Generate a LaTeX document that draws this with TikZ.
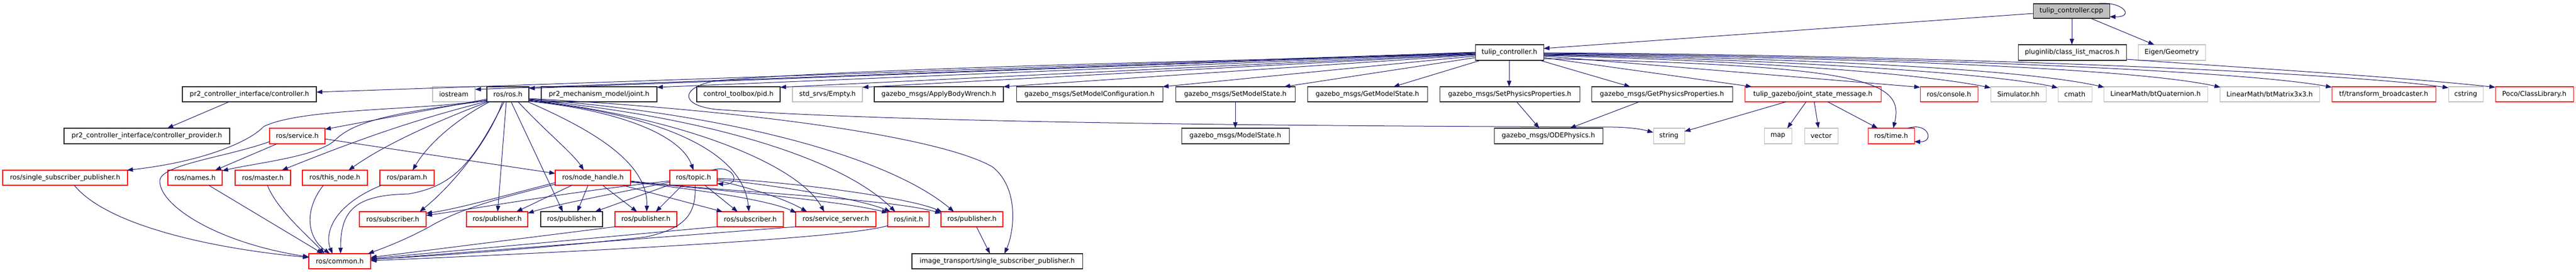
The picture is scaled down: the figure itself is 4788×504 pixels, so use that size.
\documentclass[tikz,border=0pt]{standalone}
\usepackage{fontspec}
\setmainfont{DejaVu Sans}
\usetikzlibrary{arrows.meta}
\definecolor{edgec}{HTML}{191970}
\definecolor{gbord}{HTML}{BFBFBF}
\newcommand\fs{\fontsize{12.4}{14}\selectfont}
\newcommand\nd[7]{\node[#1, minimum width=#5pt, minimum height=#6pt] (#2) at (#3,#4) {#7};}
\tikzset{
  nb/.style={draw=black!85, line width=1.05pt, fill=white, rectangle, inner sep=0pt, outer sep=0pt, anchor=north west, font=\fs},
  nr/.style={nb, draw=red},
  ng/.style={nb, draw=gbord},
  nroot/.style={nb, fill=gbord},
  e/.style={draw=edgec, line width=1pt, -{Triangle[length=11pt,width=8pt]}},
}
\begin{document}
\begin{tikzpicture}[x=1pt,y=-1pt]
\useasboundingbox (0,0) rectangle (4788,504);
% row 0 / 1
\nd{nroot}{cpp}{3779}{7}{142}{27}{tulip\_controller.cpp}
\nd{nb}{tch}{2742}{83}{127}{29}{tulip\_controller.h}
\nd{nb}{plug}{3751}{83}{201}{29}{pluginlib/class\_list\_macros.h}
\nd{ng}{eigen}{3974}{83}{125}{29}{Eigen/Geometry}
% row 2
\nd{nb}{ctrl}{339}{161}{249}{28}{pr2\_controller\_interface/controller.h}
\nd{ng}{iostream}{804}{161}{79}{28}{iostream}
\nd{nb}{rosh}{905}{161}{78}{28}{ros/ros.h}
\nd{nb}{joint}{1006}{161}{215}{28}{pr2\_mechanism\_model/joint.h}
\nd{nb}{pid}{1295}{161}{155}{28}{control\_toolbox/pid.h}
\nd{ng}{empty}{1473}{161}{130}{28}{std\_srvs/Empty.h}
\nd{nb}{abw}{1625}{161}{240}{28}{gazebo\_msgs/ApplyBodyWrench.h}
\nd{nb}{smc}{1889}{161}{272}{28}{gazebo\_msgs/SetModelConfiguration.h}
\nd{nb}{sms}{2185}{161}{222}{28}{gazebo\_msgs/SetModelState.h}
\nd{nb}{gms}{2430}{161}{223}{28}{gazebo\_msgs/GetModelState.h}
\nd{nb}{spp}{2676}{161}{260}{28}{gazebo\_msgs/SetPhysicsProperties.h}
\nd{nb}{gpp}{2958}{161}{262}{28}{gazebo\_msgs/GetPhysicsProperties.h}
\nd{nr}{jsm}{3243}{161}{253}{28}{tulip\_gazebo/joint\_state\_message.h}
\nd{nr}{console}{3569}{161}{107}{28}{ros/console.h}
\nd{ng}{sim}{3700}{161}{103}{28}{Simulator.hh}
\nd{ng}{cmath}{3825}{161}{63}{28}{cmath}
\nd{ng}{quat}{3910}{161}{193}{28}{LinearMath/btQuaternion.h}
\nd{ng}{mat}{4126}{161}{185}{28}{LinearMath/btMatrix3x3.h}
\nd{nr}{tfb}{4334}{161}{193}{28}{tf/transform\_broadcaster.h}
\nd{ng}{cstring}{4551}{161}{64}{28}{cstring}
\nd{nr}{poco}{4638}{161}{145}{28}{Poco/ClassLibrary.h}
% row 3
\nd{nb}{prov}{119}{238}{308}{29}{pr2\_controller\_interface/controller\_provider.h}
\nd{nr}{service}{501}{238}{103}{29}{ros/service.h}
\nd{nb}{mstate}{2196}{238}{200}{29}{gazebo\_msgs/ModelState.h}
\nd{nb}{ode}{2777}{238}{202}{29}{gazebo\_msgs/ODEPhysics.h}
\nd{ng}{string}{3073}{238}{58}{29}{string}
\nd{ng}{map}{3279}{238}{51}{29}{map}
\nd{ng}{vector}{3354}{238}{62}{29}{vector}
\nd{nr}{time}{3472}{238}{86}{29}{ros/time.h}
% row 4
\nd{nr}{ssp}{5}{316}{232}{28}{ros/single\_subscriber\_publisher.h}
\nd{nr}{names}{312}{316}{101}{28}{ros/names.h}
\nd{nr}{master}{437}{316}{103}{28}{ros/master.h}
\nd{nr}{thisnode}{562}{316}{121}{28}{ros/this\_node.h}
\nd{nr}{param}{706}{316}{101}{28}{ros/param.h}
\nd{nr}{nh}{1032}{316}{140}{28}{ros/node\_handle.h}
\nd{nr}{topic}{1245}{316}{88}{28}{ros/topic.h}
% row 5
\nd{nr}{sub1}{668}{393}{124}{28}{ros/subscriber.h}
\nd{nr}{pub1}{867}{393}{114}{28}{ros/publisher.h}
\nd{nb}{pubb}{1005}{393}{115}{28}{ros/publisher.h}
\nd{nr}{pub2}{1143}{393}{115}{28}{ros/publisher.h}
\nd{nr}{sub2}{1333}{393}{123}{28}{ros/subscriber.h}
\nd{nr}{ssrv}{1479}{393}{149}{28}{ros/service\_server.h}
\nd{nr}{init}{1650}{393}{77}{28}{ros/init.h}
\nd{nr}{pub3}{1749}{393}{115}{28}{ros/publisher.h}
% row 6
\nd{nr}{common}{574}{471}{115}{28}{ros/common.h}
\nd{nb}{itssp}{1695}{471}{317}{28}{image\_transport/single\_subscriber\_publisher.h}

% ---- edges: top
\draw[e] ([shift={(0,18)}]cpp.north west) -- ([shift={(127,7)}]tch.north west);
\draw[e] ([shift={(72,27)}]cpp.north west) -- ([shift={(100,0)}]plug.north west);
\draw[e] ([shift={(107,27)}]cpp.north west) -- ([shift={(30,0)}]eigen.north west);
\draw[e] ([shift={(116,0)}]cpp.north west) .. controls (3945,0) and (3970,32) .. ([shift={(142,24)}]cpp.north west);
\draw[e] ([shift={(201,27)}]plug.north west) .. controls (4200,128) and (4450,142) .. ([shift={(0,1)}]poco.north west);
% tulip_controller.h left
\draw[e] ([shift={(0,14)}]tch.north west) -- ([shift={(249,10)}]ctrl.north west);
\draw[e] ([shift={(0,14.5)}]tch.north west) -- ([shift={(79,5)}]iostream.north west);
\draw[e] ([shift={(0,15)}]tch.north west) -- ([shift={(78,3)}]rosh.north west);
\draw[e] ([shift={(0,16)}]tch.north west) -- ([shift={(215,1)}]joint.north west);
\draw[e] ([shift={(0,17)}]tch.north west) -- ([shift={(155,1)}]pid.north west);
\draw[e] ([shift={(0,18)}]tch.north west) -- ([shift={(130,1)}]empty.north west);
\draw[e] ([shift={(0,19)}]tch.north west) -- ([shift={(240,0)}]abw.north west);
\draw[e] ([shift={(0,21)}]tch.north west) -- ([shift={(272,0)}]smc.north west);
\draw[e] ([shift={(0,24)}]tch.north west) -- ([shift={(202,0)}]sms.north west);
\draw[e] ([shift={(10,29)}]tch.north west) -- ([shift={(160,0)}]gms.north west);
\draw[e] ([shift={(63,29)}]tch.north west) -- ([shift={(129,0)}]spp.north west);
\draw[e] ([shift={(120,29)}]tch.north west) -- ([shift={(72,0)}]gpp.north west);
% tulip_controller.h right
\draw[e] ([shift={(127,24)}]tch.north west) -- ([shift={(13,0)}]jsm.north west);
\draw[e] ([shift={(127,21)}]tch.north west) -- ([shift={(0,1)}]console.north west);
\draw[e] ([shift={(127,20)}]tch.north west) .. controls (3250,113) and (3560,135) .. ([shift={(0,2)}]sim.north west);
\draw[e] ([shift={(127,19)}]tch.north west) .. controls (3300,110) and (3700,135) .. ([shift={(0,2)}]cmath.north west);
\draw[e] ([shift={(127,18)}]tch.north west) .. controls (3350,108) and (3760,128) .. ([shift={(1,1)}]quat.north west);
\draw[e] ([shift={(127,17)}]tch.north west) .. controls (3400,106) and (3960,125) .. ([shift={(1,1)}]mat.north west);
\draw[e] ([shift={(127,16)}]tch.north west) .. controls (3500,104) and (4160,130) .. ([shift={(0,1)}]tfb.north west);
\draw[e] ([shift={(127,15)}]tch.north west) .. controls (3600,102) and (4360,135) .. ([shift={(0,2)}]cstring.north west);
\draw[e] ([shift={(127,26)}]tch.north west) .. controls (3470,122) and (3540,150) .. ([shift={(47,0)}]time.north west);
\draw[e] ([shift={(0,17.5)}]tch.north west) .. controls (2300,112) and (1600,126) .. (1330,150)
   .. controls (1265,162) and (1262,195) .. (1330,203)
   .. controls (1700,230) and (2500,234) .. (3000,236)
   .. controls (3040,237) and (3055,241) .. ([shift={(0,8)}]string.north west);
% row 2 -> row 3
\draw[e] ([shift={(87,28)}]ctrl.north west) -- ([shift={(192,0)}]prov.north west);
\draw[e] ([shift={(111,28)}]sms.north west) -- ([shift={(100,0)}]mstate.north west);
\draw[e] ([shift={(143,28)}]spp.north west) -- ([shift={(84,0)}]ode.north west);
\draw[e] ([shift={(89,28)}]gpp.north west) -- ([shift={(141,0)}]ode.north west);
\draw[e] ([shift={(77,28)}]jsm.north west) -- ([shift={(58,6)}]string.north west);
\draw[e] ([shift={(114,28)}]jsm.north west) -- ([shift={(43,0)}]map.north west);
\draw[e] ([shift={(129,28)}]jsm.north west) -- ([shift={(26,0)}]vector.north west);
\draw[e] ([shift={(154,28)}]jsm.north west) -- ([shift={(18,0)}]time.north west);
\draw[e] ([shift={(74,0)}]time.north west) .. controls (3585,226) and (3596,264) .. ([shift={(86,25)}]time.north west);
% ros/ros.h
\draw[e] ([shift={(0,25)}]rosh.north west) .. controls (790,205) and (560,200) .. (490,235)
   .. controls (465,262) and (380,300) .. ([shift={(231,0)}]ssp.north west);
\draw[e] ([shift={(0,23)}]rosh.north west) -- ([shift={(103,2)}]service.north west);
\draw[e] ([shift={(0,26)}]rosh.north west) .. controls (760,206) and (665,220) .. (625,258)
   .. controls (595,290) and (480,302) .. ([shift={(101,1)}]names.north west);
\draw[e] ([shift={(1,27)}]rosh.north west) .. controls (800,215) and (700,245) .. ([shift={(87,0)}]master.north west);
\draw[e] ([shift={(2,28)}]rosh.north west) .. controls (820,222) and (720,265) .. ([shift={(86,0)}]thisnode.north west);
\draw[e] ([shift={(5,28)}]rosh.north west) .. controls (860,215) and (800,260) .. ([shift={(61,0)}]param.north west);
\draw[e] ([shift={(29,28)}]rosh.north west) .. controls (910,260) and (840,345) .. ([shift={(112,0)}]sub1.north west);
\draw[e] ([shift={(32,28)}]rosh.north west) .. controls (880,300) and (845,345) .. (760,360)
   .. controls (660,362) and (633,390) .. ([shift={(59,0)}]common.north west);
\draw[e] ([shift={(36,28)}]rosh.north west) -- ([shift={(58,0)}]pub1.north west);
\draw[e] ([shift={(45,28)}]rosh.north west) -- ([shift={(41,0)}]pubb.north west);
\draw[e] ([shift={(58,28)}]rosh.north west) .. controls (1010,240) and (1065,285) .. ([shift={(53,0)}]nh.north west);
\draw[e] ([shift={(76,28)}]rosh.north west) .. controls (1110,245) and (1205,305) .. ([shift={(59,0)}]pub2.north west);
\draw[e] ([shift={(78,27)}]rosh.north west) .. controls (1150,205) and (1265,250) .. ([shift={(44,0)}]topic.north west);
\draw[e] ([shift={(78,26)}]rosh.north west) .. controls (1200,210) and (1380,270) .. ([shift={(59,0)}]sub2.north west);
\draw[e] ([shift={(78,25)}]rosh.north west) .. controls (1250,215) and (1480,300) .. ([shift={(53,0)}]ssrv.north west);
\draw[e] ([shift={(78,24)}]rosh.north west) .. controls (1300,215) and (1560,290) .. ([shift={(14,0)}]init.north west);
\draw[e] ([shift={(78,23)}]rosh.north west) .. controls (1350,210) and (1650,290) .. ([shift={(24,0)}]pub3.north west);
\draw[e] ([shift={(78,22)}]rosh.north west) .. controls (1400,205) and (1750,255) .. (1845,310)
   .. controls (1895,350) and (1885,430) .. ([shift={(172,0)}]itssp.north west);
% ros/node_handle.h
\draw[e] ([shift={(0,23)}]nh.north west) .. controls (950,360) and (850,388) .. ([shift={(124,3)}]sub1.north west);
\draw[e] ([shift={(0,26)}]nh.north west) .. controls (940,365) and (860,385) .. (800,420)
   .. controls (760,442) and (720,458) .. ([shift={(110,0)}]common.north west);
\draw[e] ([shift={(31,28)}]nh.north west) -- ([shift={(93,0)}]pub1.north west);
\draw[e] ([shift={(61,28)}]nh.north west) -- ([shift={(68,0)}]pubb.north west);
\draw[e] ([shift={(88,28)}]nh.north west) -- ([shift={(41,0)}]pub2.north west);
\draw[e] ([shift={(125,28)}]nh.north west) -- ([shift={(10,0)}]sub2.north west);
\draw[e] ([shift={(140,22)}]nh.north west) .. controls (1300,352) and (1430,372) .. ([shift={(1,2)}]ssrv.north west);
\draw[e] ([shift={(140,21)}]nh.north west) .. controls (1320,352) and (1560,372) .. ([shift={(0,2)}]init.north west);
\draw[e] ([shift={(140,20)}]nh.north west) .. controls (1330,355) and (1650,368) .. ([shift={(0,3)}]pub3.north west);
% ros/topic.h
\draw[e] ([shift={(0,20)}]topic.north west) .. controls (1050,357) and (900,385) .. ([shift={(124,7)}]sub1.north west);
\draw[e] ([shift={(0,22)}]topic.north west) .. controls (1150,358) and (1030,380) .. ([shift={(114,3)}]pub1.north west);
\draw[e] ([shift={(0,27)}]topic.north west) -- ([shift={(101,0)}]pubb.north west);
\draw[e] ([shift={(23,28)}]topic.north west) -- ([shift={(76,0)}]pub2.north west);
\draw[e] ([shift={(47,28)}]topic.north west) .. controls (1295,400) and (1270,425) .. (1200,440)
   .. controls (1000,462) and (800,476) .. ([shift={(115,10)}]common.north west);
\draw[e] ([shift={(65,28)}]topic.north west) -- ([shift={(38,0)}]sub2.north west);
\draw[e] ([shift={(88,19)}]topic.north west) .. controls (1400,350) and (1460,370) .. ([shift={(21,0)}]ssrv.north west);
\draw[e] ([shift={(88,17)}]topic.north west) .. controls (1450,345) and (1600,370) .. ([shift={(5,0)}]init.north west);
\draw[e] ([shift={(88,15)}]topic.north west) .. controls (1500,340) and (1700,370) .. ([shift={(2,1)}]pub3.north west);
\draw[e] ([shift={(78,0)}]topic.north west) .. controls (1365,303) and (1380,345) .. ([shift={(88,25)}]topic.north west);
% ros/service.h
\draw[e] ([shift={(14,29)}]service.north west) -- ([shift={(88,0)}]names.north west);
\draw[e] ([shift={(0,25)}]service.north west) .. controls (420,292) and (300,305) .. (297,335)
   .. controls (295,380) and (400,450) .. ([shift={(0,6)}]common.north west);
\draw[e] ([shift={(103,20)}]service.north west) -- ([shift={(0,6)}]nh.north west);
% row 4 -> common
\draw[e] ([shift={(133,28)}]ssp.north west) .. controls (200,420) and (400,462) .. ([shift={(0,7)}]common.north west);
\draw[e] ([shift={(76,28)}]names.north west) -- ([shift={(26,0)}]common.north west);
\draw[e] ([shift={(60,28)}]master.north west) .. controls (515,390) and (575,440) .. ([shift={(29,0)}]common.north west);
\draw[e] ([shift={(39,28)}]thisnode.north west) .. controls (565,390) and (570,440) .. ([shift={(39,0)}]common.north west);
\draw[e] ([shift={(3,28)}]param.north west) .. controls (610,385) and (605,440) .. ([shift={(44,0)}]common.north west);
% row 5 -> common / image_transport
\draw[e] ([shift={(0,28)}]pub2.north west) -- ([shift={(115,7)}]common.north west);
\draw[e] ([shift={(0,28)}]sub2.north west) -- ([shift={(115,9)}]common.north west);
\draw[e] ([shift={(0,28)}]ssrv.north west) -- ([shift={(115,11)}]common.north west);
\draw[e] ([shift={(0,26)}]init.north west) .. controls (1580,440) and (1200,462) .. ([shift={(115,13)}]common.north west);
\draw[e] ([shift={(66,28)}]pub3.north west) -- ([shift={(145,0)}]itssp.north west);
\end{tikzpicture}
\end{document}
